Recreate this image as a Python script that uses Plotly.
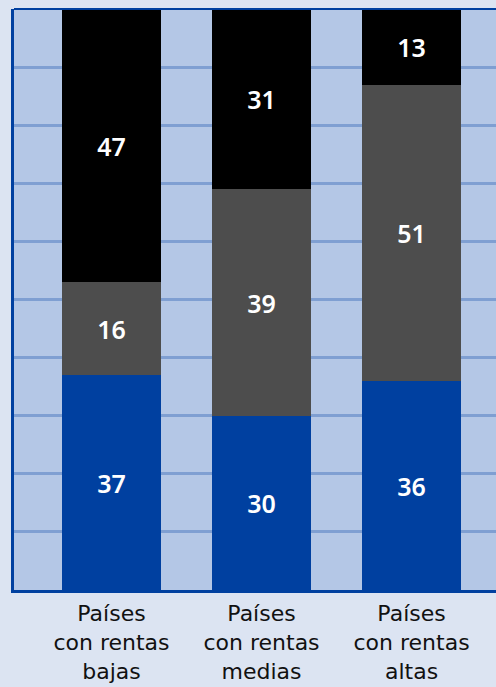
import plotly.graph_objects as go

categories = ["Países<br>con rentas<br>bajas", "Países<br>con rentas<br>medias", "Países<br>con rentas<br>altas"]
x_pos = [0, 1, 2]
blue_vals = [37, 30, 36]
grey_vals = [16, 39, 51]
black_vals = [47, 31, 13]

series = [
    (blue_vals, "#0040a0"),
    (grey_vals, "#4d4d4d"),
    (black_vals, "#000000"),
]

fig = go.Figure()
for vals, col in series:
    fig.add_trace(go.Bar(
        x=x_pos, y=vals, width=0.66,
        marker=dict(color=col, line=dict(width=0)),
        text=[str(v) for v in vals],
        textposition="inside", insidetextanchor="middle",
        textangle=0, constraintext="none",
        textfont=dict(family="Noto Sans", size=25, color="white", weight=600),
        showlegend=False, hoverinfo="skip",
    ))

fig.update_layout(
    barmode="stack",
    width=496, height=687,
    margin=dict(l=14, r=0, t=9, b=97),
    paper_bgcolor="#dce4f2",
    plot_bgcolor="#b4c7e6",
    bargap=0,
    shapes=[dict(type="line", xref="paper", yref="paper", x0=0, x1=1, y0=1, y1=1,
                 line=dict(color="#0040a0", width=2))],
)
fig.update_xaxes(
    range=[-0.65, 2.563],
    tickmode="array", tickvals=x_pos, ticktext=categories,
    tickfont=dict(family="DejaVu Sans", size=22, color="#111111"),
    showline=True, linecolor="#0040a0", linewidth=3,
    showgrid=False, zeroline=False, ticks="", ticklabelstandoff=2,
)
fig.update_yaxes(
    range=[0, 100], dtick=10,
    showticklabels=False, ticks="",
    showgrid=True, gridcolor="#7f9fd2", gridwidth=3,
    showline=True, linecolor="#0040a0", linewidth=3,
    zeroline=False,
)

fig.write_html("out.html")
